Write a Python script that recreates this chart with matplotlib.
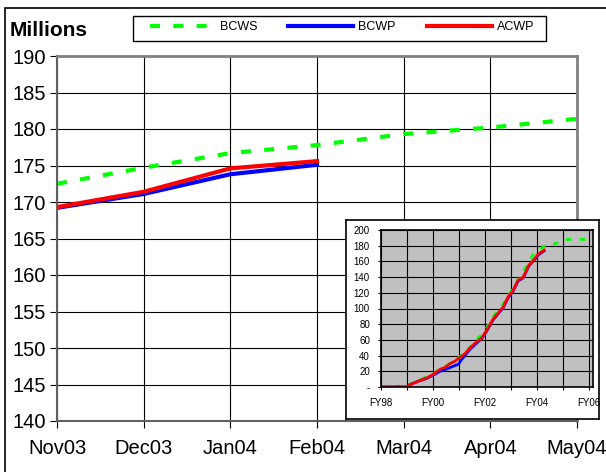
import numpy as np
import matplotlib
matplotlib.use("Agg")
import matplotlib.pyplot as plt
from matplotlib.patches import Rectangle
from matplotlib.lines import Line2D

plt.rcParams['font.family'] = ['Liberation Sans', 'DejaVu Sans']

# main chart (monthly, millions)
months = ["Nov03", "Dec03", "Jan04", "Feb04", "Mar04", "Apr04", "May04"]
bcws = [172.5, 174.7, 176.7, 177.8, 179.3, 180.2, 181.4]
bcwp = [169.2, 171.1, 173.8, 175.1]
acwp = [169.3, 171.4, 174.6, 175.6]

# inset chart (years since FY98, cumulative millions)
fy_labels = ["FY98", "FY00", "FY02", "FY04", "FY06"]
acwp_t = [0, 0.97, 1.12, 1.4, 1.76, 2.03, 2.27, 2.46, 2.66, 2.85, 3.04, 3.23, 3.42, 3.68,
          3.87, 4.06, 4.32, 4.51, 4.7, 4.89, 5.06, 5.27, 5.47, 5.68, 5.87, 6.04, 6.27]
acwp_v = [0, 0, 3, 7, 11.5, 16.6, 22.5, 25, 30, 33, 38, 42.5, 50, 57.4,
          62.6, 72, 87, 94.5, 102, 115, 122, 136, 140, 155, 162, 169, 174.5]
bcwp_t = [0, 0.97, 1.12, 1.4, 1.76, 2.03, 2.27, 2.53, 2.78, 2.98, 3.1, 3.42, 3.68,
          3.87, 4.06, 4.32, 4.51, 4.7, 4.89, 5.06, 5.27, 5.47, 5.68, 5.87, 6.04, 6.27]
bcwp_v = [0, 0, 3, 7, 11, 15.5, 20, 23, 26.5, 29, 35, 48, 56,
          61.5, 71, 86, 93.5, 101, 114, 121, 135, 139, 154, 161, 168, 173.5]
bcws_t = [0, 0.97, 1.4, 1.76, 2.03, 2.46, 2.85, 3.23, 3.68, 4.06, 4.32, 4.7, 5.06,
          5.47, 5.87, 6.25, 6.74, 7.0, 8.15]
bcws_v = [0, 1, 8, 13, 17.5, 26, 34, 44, 60, 75, 90, 106, 125,
          147, 170, 179, 183, 188, 188]

W, H = 606, 472
fig = plt.figure(figsize=(W / 100, H / 100), dpi=100)
# outer frame (runs off the right and bottom edges like the original)
fig.patches.append(Rectangle((5 / W, -0.05), 1.1, 1.05 - 8 / H, transform=fig.transFigure,
                             fill=False, edgecolor='black', linewidth=1.2))

ax = fig.add_axes([57 / W, 1 - 421 / H, 520 / W, 365 / H])
x = np.arange(len(months))
ax.plot(x[:len(bcws)], bcws, color='#00ff00', lw=3, dashes=(2.4, 3.2))
ax.plot(x[:len(bcwp)], bcwp, color='#0000ff', lw=3)
ax.plot(x[:len(acwp)], acwp, color='#ff0000', lw=3)
ax.set_xlim(0, 6)
ax.set_ylim(140, 190)
ax.set_xticks(x)
ax.set_xticklabels(months, fontsize=14.5)
ax.set_yticks(np.arange(140, 191, 5))
ax.tick_params(axis='y', labelsize=14.5, direction='out', length=5, color='black', pad=3)
ax.tick_params(axis='x', direction='out', length=5, color='black', pad=8)
ax.grid(True, color='black', lw=0.8)
for s in ['top', 'right']:
    ax.spines[s].set_color('#808080')
    ax.spines[s].set_linewidth(2)
for s in ['left', 'bottom']:
    ax.spines[s].set_color('#606060')
    ax.spines[s].set_linewidth(1.5)
fig.text(10 / W, 1 - 31 / H, "Millions", fontsize=15, fontweight='bold', va='center')

# legend
fig.patches.append(Rectangle((133 / W, 1 - 41 / H), 413 / W, 25 / H, transform=fig.transFigure,
                             fill=False, edgecolor='black', linewidth=1))
handles = [Line2D([], [], color='#00ff00', lw=3, dashes=(2.4, 3.2)),
           Line2D([], [], color='#0000ff', lw=3),
           Line2D([], [], color='#ff0000', lw=3)]
fig.legend(handles, ["BCWS", "BCWP", "ACWP"], ncol=3, fontsize=9,
           loc='center', bbox_to_anchor=(150 / W, 1 - 40 / H, 384 / W, 26 / H),
           mode='expand', handlelength=5.2, handletextpad=0.4, borderaxespad=0,
           borderpad=0, frameon=False)

# inset box
box = fig.add_axes([346 / W, 1 - 419 / H, 253 / W, 199 / H])
box.set_xticks([])
box.set_yticks([])
for s in box.spines.values():
    s.set_linewidth(1.2)
    s.set_color('black')

ins = fig.add_axes([381 / W, 1 - 387 / H, 212 / W, 157 / H])
ins.set_facecolor('#c0c0c0')
ins.plot(bcws_t, bcws_v, color='#00ff00', lw=2, dashes=(2, 3))
ins.plot(bcwp_t, bcwp_v, color='#0000ff', lw=2)
ins.plot(acwp_t, acwp_v, color='#ff0000', lw=2)
ins.set_xlim(0, 8.15)
ins.set_ylim(0, 200)
ins.set_xticks(np.arange(0, 9))
ins.set_xticklabels([fy_labels[i // 2] if i % 2 == 0 else "" for i in range(9)], fontsize=7)
ins.set_yticks(np.arange(0, 201, 20))
ins.set_yticklabels(["-"] + [str(v) for v in range(20, 201, 20)], fontsize=7)
ins.tick_params(axis='both', direction='out', length=2, pad=6)
ins.tick_params(axis='y', pad=6)
ins.grid(True, color='black', lw=0.8)
for s in ins.spines.values():
    s.set_linewidth(1.2)
    s.set_color('black')

fig.savefig("out.png", dpi=100)
